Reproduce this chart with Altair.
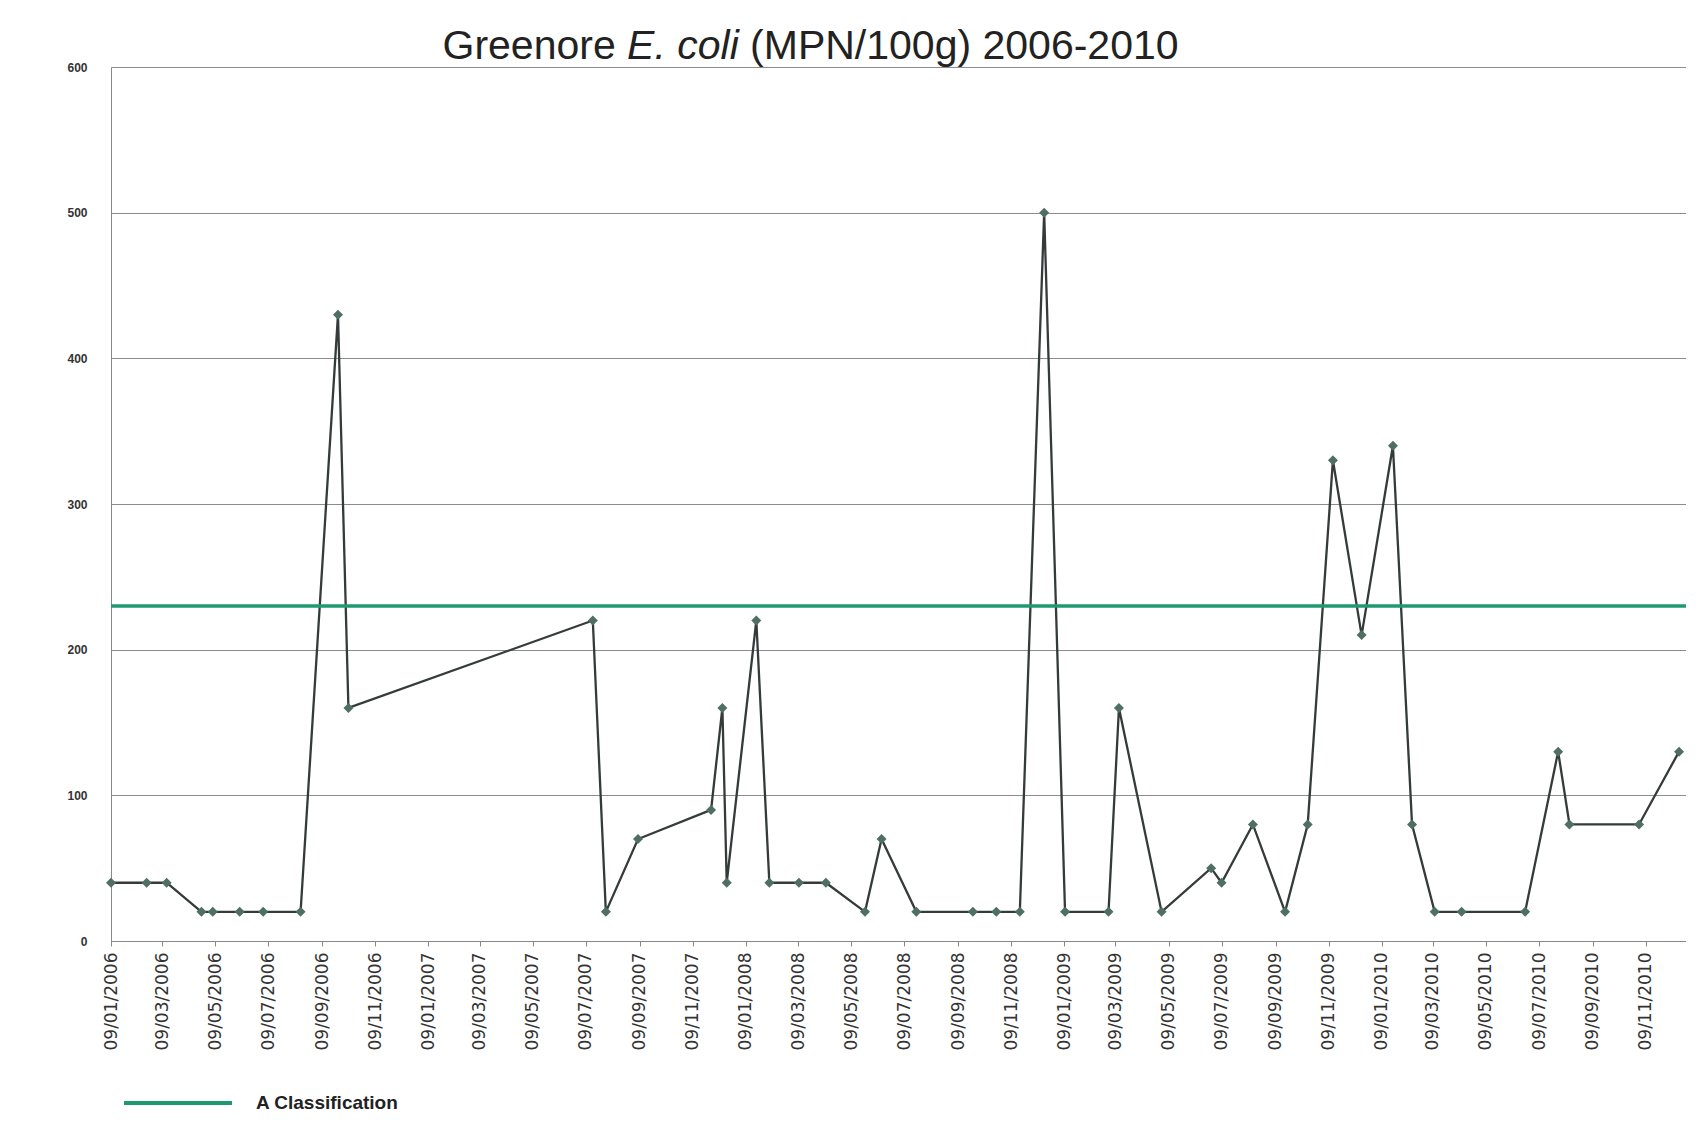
import altair as alt
import pandas as pd

# ---- data ----
sample_dates = [
    "2006-01-09", "2006-02-19", "2006-03-14", "2006-04-23", "2006-05-06",
    "2006-06-06", "2006-07-03", "2006-08-15", "2006-09-27", "2006-10-09",
    "2007-07-17", "2007-08-01", "2007-09-07", "2007-11-30", "2007-12-13",
    "2007-12-18", "2008-01-21", "2008-02-05", "2008-03-10", "2008-04-10",
    "2008-05-25", "2008-06-13", "2008-07-23", "2008-09-26", "2008-10-23",
    "2008-11-19", "2008-12-17", "2009-01-10", "2009-03-01", "2009-03-13",
    "2009-05-01", "2009-06-27", "2009-07-09", "2009-08-14", "2009-09-20",
    "2009-10-16", "2009-11-14", "2009-12-17", "2010-01-22", "2010-02-13",
    "2010-03-11", "2010-04-11", "2010-06-23", "2010-07-31", "2010-08-13",
    "2010-11-01", "2010-12-17",
]
ecoli_values = [
    40, 40, 40, 20, 20,
    20, 20, 20, 430, 160,
    220, 20, 70, 90, 160,
    40, 220, 40, 40, 40,
    20, 70, 20, 20, 20,
    20, 500, 20, 20, 160,
    20, 50, 40, 80, 20,
    80, 330, 210, 340, 80,
    20, 20, 20, 130, 80,
    80, 130,
]
tick_years = [2006] * 6 + [2007] * 6 + [2008] * 6 + [2009] * 6 + [2010] * 6
tick_months = [1, 3, 5, 7, 9, 11] * 5
y_ticks = [0, 100, 200, 300, 400, 500, 600]
threshold_value = [230]
threshold_label = ["A Classification"]
title_parts = ["Greenore", "E. coli", "(MPN/100g) 2006-2010"]

GREEN = "#1e9a70"

df = pd.DataFrame({"date": sample_dates, "ecoli": ecoli_values})
df_rule = pd.DataFrame({"value": threshold_value, "label": threshold_label})

tick_values = [alt.DateTime(year=y, month=m, date=9, utc=True)
               for y, m in zip(tick_years, tick_months)]

x_enc = alt.X(
    "date:T",
    scale=alt.Scale(type="utc",
                    domain=[alt.DateTime(year=2006, month=1, date=9, utc=True),
                            alt.DateTime(year=2010, month=12, date=25, utc=True)]),
    axis=alt.Axis(values=tick_values,
                  labelExpr="utcFormat(datum.value, '%d/%m/%Y')",
                  labelAngle=270, labelFont="DejaVu Sans", labelFontSize=17,
                  labelColor="#333333", labelPadding=6, ticks=True, tickSize=5,
                  tickColor="#888888", domainColor="#888888", grid=False,
                  title=None, labelOverlap=False),
)
y_enc = alt.Y(
    "ecoli:Q",
    scale=alt.Scale(domain=[0, 600], nice=False, zero=True),
    axis=alt.Axis(values=y_ticks, grid=True, gridColor="#8c8c8c", gridWidth=1,
                  domain=True, domainColor="#888888", ticks=False,
                  labelPadding=24, labelFontSize=12, labelFont="Liberation Sans",
                  labelFontWeight="bold", labelColor="#333333", title=None),
)

rule = alt.Chart(df_rule).mark_rule(strokeWidth=3.5).encode(
    y=alt.Y("value:Q", scale=alt.Scale(domain=[0, 600], nice=False)),
    color=alt.Color(
        "label:N",
        scale=alt.Scale(domain=threshold_label, range=[GREEN]),
        legend=alt.Legend(orient="none", legendX=11, legendY=980, title=None,
                          symbolType="stroke", symbolSize=11664,
                          symbolStrokeWidth=4, labelOffset=22,
                          labelFont="Liberation Sans", labelFontSize=19,
                          labelFontWeight="bold", labelColor="#222222",
                          labelLimit=400, padding=0),
    ),
)

line = alt.Chart(df).mark_line(color="#353a3a", strokeWidth=2.3).encode(x=x_enc, y=y_enc)
points = alt.Chart(df).mark_point(shape="diamond", filled=True, size=100,
                                  color="#4f6f64", opacity=1).encode(x=x_enc, y=y_enc)

title_x = [331.5, 516.1, 639.1]
title_styles = ["normal", "italic", "normal"]
title_layers = []
for txt, tx, st in zip(title_parts, title_x, title_styles):
    title_layers.append(
        alt.Chart(pd.DataFrame({"t": [txt]})).mark_text(
            align="left", baseline="alphabetic", fontSize=41,
            font="Liberation Sans", fontStyle=st, color="#222222"
        ).encode(text="t:N", x=alt.value(tx), y=alt.value(-8))
    )

chart = alt.layer(line, points, rule, *title_layers).properties(
    width=1575, height=874,
    autosize=alt.AutoSizeParams(type="none"),
    padding={"left": 103, "top": 59, "right": 0, "bottom": 177},
).configure_view(strokeWidth=0).configure(background="white")

chart.save("out.html", embed_options={"renderer": "svg", "actions": False})
